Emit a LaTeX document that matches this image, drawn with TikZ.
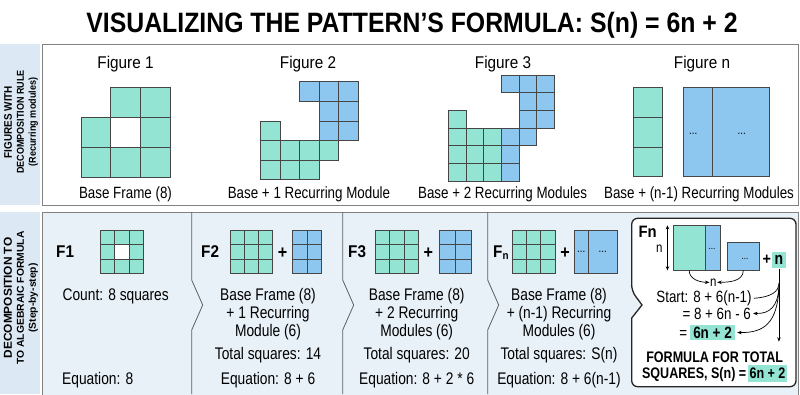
\documentclass[tikz,border=0pt]{standalone}
\usepackage{fontspec}
\setmainfont[FakeStretch=0.82]{Liberation Sans}
\newfontfamily\widef[FakeStretch=0.9]{Liberation Sans}
\usepackage{graphicx}
\usetikzlibrary{arrows.meta}
\definecolor{teal1}{RGB}{148,228,212}
\definecolor{blue1}{RGB}{141,198,238}
\definecolor{stripc}{RGB}{220,232,244}
\definecolor{panelb}{RGB}{232,240,248}
\definecolor{gridc}{RGB}{70,70,70}
\definecolor{bord}{RGB}{130,130,130}
\definecolor{sepc}{RGB}{95,95,95}
\newcommand\cellset[5]{\foreach \cc/\rr in {#5}{\draw[#4] ({#1+\cc*#3},{#2+\rr*#3}) rectangle ++(#3,#3);}}
\newcommand\rgrid[7]{\foreach \ii in {1,...,#5}{\foreach \jj in {1,...,#6}{\draw[#7] ({#1+(\ii-1)*#3},{#2+(\jj-1)*#4}) rectangle ++(#3,#4);}}}
\begin{document}
\begin{tikzpicture}[x=1pt,y=-1pt,
  tc/.style={draw=gridc,line width=0.7pt,fill=teal1},
  bc/.style={draw=gridc,line width=0.7pt,fill=blue1},
  figlab/.style={font=\widef\fontsize{17}{20}\selectfont,inner sep=0,anchor=base},
  captxt/.style={font=\fontsize{16.3}{18}\selectfont,inner sep=0,anchor=base},
  btxt/.style={font=\fontsize{16.8}{18}\selectfont,inner sep=0,anchor=base},
  ftxt/.style={font=\fontsize{16.3}{18}\selectfont,inner sep=0,anchor=base},
  flab/.style={font=\widef\fontsize{17}{20}\selectfont\bfseries,inner sep=0,anchor=base west},
  plus/.style={font=\widef\fontsize{18}{20}\selectfont\bfseries,inner sep=0},
  sepline/.style={draw=sepc,line width=0.8pt},
  arr/.style={-{Stealth[length=4.5pt,width=3.5pt]},line width=0.7pt},
  dotl/.style={font=\fontsize{12}{12}\selectfont,inner sep=0},
  hl/.style={fill=teal1,inner sep=0,font=\fontsize{16.4}{18}\selectfont\bfseries},
  striptxt/.style={rotate=90,align=center,inner sep=0,font=\bfseries},
 ]
\useasboundingbox (0,0) rectangle (800,394);
\fill[white] (0,0) rectangle (800,394);

% title
\node[inner sep=0,anchor=base] (title) at (412,32) {\resizebox{651pt}{20.3pt}{\bfseries VISUALIZING THE PATTERN’S FORMULA: S(n) = 6n + 2}};

% panels
\fill[stripc] (0,44) rectangle (40,205);
\draw[draw=bord,line width=1pt,fill=white] (42,44) rectangle (798,205);
\fill[stripc] (0,212) rectangle (40,394);
\draw[draw=bord,line width=1pt,fill=panelb] (42,212) rectangle (798,396);

% strip labels
\node[striptxt] (s1) at (21,122) {\fontsize{11}{9.6}\selectfont\scalebox{1.1}[1]{FIGURES WITH}\\\scalebox{1.1}[1]{DECOMPOSITION RULE}\\\scalebox{1.1}[1]{(Recurring modules)}};
\node[striptxt] (s2) at (21,298) {\fontsize{11.5}{10}\selectfont\scalebox{1.26}[1]{DECOMPOSITION TO}\\\scalebox{1.26}[1]{TO ALGEBRAIC FORMULA}\\\scalebox{1.26}[1]{(Step-by-step)}};

% ---------- top panel ----------
\node[figlab] (f1t) at (125.5,68) {Figure 1};
\node[figlab] (f2t) at (308,68) {Figure 2};
\node[figlab] (f3t) at (503,68) {Figure 3};
\node[figlab] (fnt) at (702,68) {Figure n};

\cellset{81}{87.7}{29.8}{tc}{1/0,2/0,0/1,2/1,0/2,1/2,2/2}
\cellset{260.3}{81.7}{19.6}{bc}{2/0,3/0,4/0,3/1,4/1,3/2,4/2}
\cellset{260.3}{81.7}{19.6}{tc}{0/2,0/3,1/3,2/3,3/3,0/4,1/4,2/4}
\cellset{448.3}{75}{17.7}{bc}{3/0,4/0,5/0,4/1,5/1,4/2,5/2,3/3,4/3,3/4,3/5}
\cellset{448.3}{75}{17.7}{tc}{0/2,0/3,1/3,2/3,0/4,1/4,2/4,0/5,1/5,2/5}
\foreach \rr in {0,1,2}{\draw[tc] (633.3,{87.3+\rr*29.8}) rectangle ++(29.4,29.8);}
\draw[bc] (683.7,87.3) rectangle (769.3,176.7);
\draw[draw=gridc,line width=0.7pt] (712.7,87.3) -- (712.7,176.7);
\node[dotl] (dn1) at (693.3,134) {...};
\node[dotl] (dn2) at (741.7,134) {...};

\node[captxt] (c1) at (125.5,198.8) {Base Frame (8)};
\node[captxt] (c2) at (309,198.8) {Base + 1 Recurring Module};
\node[captxt] (c3) at (502.6,198.8) {Base + 2 Recurring Modules};
\node[captxt] (cn) at (699,198.8) {Base + (n-1) Recurring Modules};

% ---------- bottom panel ----------
\foreach \xx in {191.7,342.7,487.7}{\draw[sepline] (\xx,212) -- (\xx,280) -- ({\xx+11},305) -- (\xx,330) -- (\xx,394);}

% F1
\node[flab] (F1) at (56,257.7) {F1};
\rgrid{100}{230}{14.43}{14.43}{3}{3}{tc}
\draw[draw=gridc,line width=0.7pt,fill=white] (114.43,244.43) rectangle ++(14.43,14.43);
\node[btxt] (cnt) at (115.7,300.8) {Count: 8 squares};
\node[btxt,anchor=base west] (eq1) at (62,384) {Equation: 8};

% F2
\node[flab] (F2) at (201,257.7) {F2};
\rgrid{230}{230}{14.23}{14.43}{3}{3}{tc}
\node[plus] (p2) at (282.7,253) {+};
\rgrid{292.7}{230}{14.5}{14.43}{2}{3}{bc}
\node[btxt] (a2) at (268,300) {Base Frame (8)};
\node[btxt] (b2) at (268,318) {+ 1 Recurring};
\node[btxt] (m2) at (268,336.7) {Module (6)};
\node[btxt] (t2) at (268,359) {Total squares: 14};
\node[btxt] (e2) at (268,384) {Equation: 8 + 6};

% F3
\node[flab] (F3) at (348,257.7) {F3};
\rgrid{375}{230}{14.43}{14.43}{3}{3}{tc}
\node[plus] (p3) at (428.3,253) {+};
\rgrid{439.3}{230}{16.2}{14.43}{2}{3}{bc}
\node[btxt] (a3) at (416.7,300) {Base Frame (8)};
\node[btxt] (b3) at (416.7,318) {+ 2 Recurring};
\node[btxt] (m3) at (416.7,336.7) {Modules (6)};
\node[btxt] (t3) at (416.7,359) {Total squares: 20};
\node[btxt] (e3) at (416.7,384) {Equation: 8 + 2 * 6};

% Fn
\node[flab] (Fnl) at (493,257.7) {F\raisebox{-2pt}{\fontsize{11}{11}\selectfont n}};
\rgrid{512.3}{230}{14.23}{14.43}{3}{3}{tc}
\node[plus] (pn) at (565,253) {+};
\draw[bc] (574.3,230) rectangle (617.3,273.3);
\draw[draw=gridc,line width=0.7pt] (588.3,230) -- (588.3,273.3);
\node[dotl] (dd1) at (581.3,252) {...};
\node[dotl] (dd2) at (602.8,252) {...};
\node[btxt] (an) at (559,300) {Base Frame (8)};
\node[btxt] (bn) at (559,318) {+ (n-1) Recurring};
\node[btxt] (mn) at (559,336.7) {Modules (6)};
\node[btxt] (tn) at (559,359) {Total squares: S(n)};
\node[btxt] (en) at (559,384) {Equation: 8 + 6(n-1)};

% final box
\draw[draw=black!85,line width=1.3pt,fill=white]
  (631.7,291) -- (642,305) -- (631.7,318)
  [rounded corners=6pt] -- (631.7,386.7) -- (796,386.7) -- (796,218.3) -- (631.7,218.3) -- (631.7,291) -- cycle;
\node[font=\widef\fontsize{16.5}{18}\selectfont\bfseries,inner sep=0,anchor=base west] (Fb) at (638.3,237.6) {Fn};
\node[tc,minimum width=31.7pt,minimum height=44.3pt,inner sep=0] (ftl) at (689.15,247.85) {};
\node[bc,minimum width=15pt,minimum height=44.3pt,inner sep=0] (fbl) at (712.5,247.85) {};
\node[dotl,font=\fontsize{10}{10}\selectfont] (fbd) at (712,249) {...};
\node[bc,minimum width=32pt,minimum height=27.7pt,inner sep=0] (fbs) at (743.3,256.15) {};
\node[dotl,font=\fontsize{10}{10}\selectfont] (fsd) at (745,259) {...};
\draw[{Stealth[length=4pt,width=3.5pt]}-{Stealth[length=4pt,width=3.5pt]},line width=0.7pt] ([xshift=-5.5pt]ftl.north west) -- ([xshift=-5.5pt]ftl.south west);
\node[font=\fontsize{14}{14}\selectfont,inner sep=0] (nv) at (659.3,248.3) {n};
\node[plus,font=\widef\fontsize{16}{18}\selectfont\bfseries] (pf) at (766.7,260) {+};
\node[hl,minimum width=14.3pt,minimum height=16.6pt,font=\fontsize{17}{18}\selectfont\bfseries] (nbox) at (778.9,260) {n};
\node[font=\fontsize{14}{14}\selectfont,inner sep=0.5pt] (nmid) at (713.3,282.3) {n};
\draw[arr] (ftl.south) to[out=-90,in=180] (nmid.west);
\draw[arr] (fbs.south) to[out=-90,in=0] (nmid.east);

\node[ftxt] (st) at (704,302.5) {Start: 8 + 6(n-1)};
\node[ftxt] (eqb) at (716.7,319) {= 8 + 6n - 6};
\node[ftxt] (eqc) at (683.3,338.5) {=};
\node[hl,minimum width=45pt,minimum height=15pt] (h1) at (712.5,332.5) {6n + 2};
\node[font=\fontsize{15.3}{16}\selectfont\bfseries,inner sep=0,anchor=base] (fo1) at (714.7,362) {FORMULA FOR TOTAL};
\node[font=\fontsize{15.3}{16}\selectfont\bfseries,inner sep=0,anchor=base east] (fo2) at (746.5,378.8) {SQUARES, S(n) =};
\node[hl,minimum width=38.4pt,minimum height=16.7pt,font=\fontsize{15.3}{16}\selectfont\bfseries] (h2) at (767.5,373.3) {6n + 2};

\coordinate (vend) at (778.9,341.7);
\coordinate (j1) at (778.9,283);
\coordinate (j2) at (778.9,287);
\coordinate (j3) at (778.9,289);
\draw[arr] (nbox.south) -- (vend);
\draw[line width=0.7pt] ([xshift=2pt]st.east) .. controls (771,297) and (778.9,292) .. (j1);
\draw[arr] (j2) .. controls (778,306) and (770,314) .. ([xshift=2pt]eqb.east);
\draw[arr] (j3) .. controls (777,322) and (765,333) .. ([xshift=2pt]h1.east);
\end{tikzpicture}
\end{document}
